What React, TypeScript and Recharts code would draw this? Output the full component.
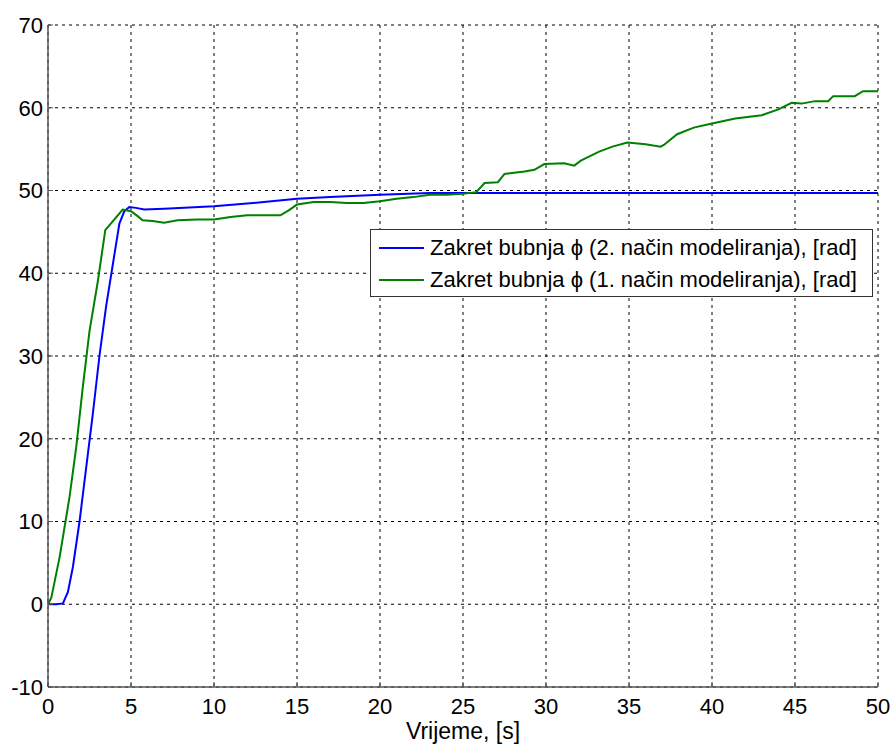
import React from "react";
import { LineChart, Line, XAxis, YAxis, CartesianGrid } from "recharts";

// model 2 (blue)
const blueT = [0, 0.5, 0.9, 1.2, 1.5, 1.9, 2.3, 2.7, 3.1, 3.5, 3.9, 4.3, 4.6, 4.9, 5.3, 5.8, 7, 10, 13, 15, 17, 20, 23, 25, 30, 40, 50];
const blueY = [0, 0, 0.1, 1.5, 4.5, 10, 16.5, 23, 30, 36, 41, 46, 47.5, 48, 47.9, 47.7, 47.8, 48.1, 48.6, 49.0, 49.2, 49.5, 49.7, 49.7, 49.7, 49.7, 49.7];

// model 1 (green)
const greenT = [0, 0.2, 0.7, 1.3, 1.7, 2.1, 2.5, 3.0, 3.45, 4.0, 4.5, 5.0, 5.4, 5.7, 6.3, 7.0, 7.8, 9, 10, 11, 12, 13, 14, 14.5, 15, 16, 17, 18, 19, 20, 21, 22, 23, 24, 25, 25.8, 26.3, 27.1, 27.5, 28.7, 29.3, 29.9, 31.1, 31.7, 32.1, 33.2, 34.0, 34.9, 36, 36.9, 37.1, 37.9, 38.9, 40, 41.4, 43, 44, 44.8, 45.4, 46.2, 47, 47.3, 48.6, 49.1, 50];
const greenY = [0, 0.8, 5.7, 13, 19, 26.3, 33, 39, 45.2, 46.5, 47.7, 47.5, 46.9, 46.4, 46.3, 46.1, 46.4, 46.5, 46.5, 46.8, 47.0, 47.0, 47.0, 47.6, 48.3, 48.6, 48.6, 48.5, 48.5, 48.7, 49.0, 49.2, 49.5, 49.5, 49.6, 49.8, 50.9, 51.0, 52.0, 52.3, 52.5, 53.2, 53.3, 53.0, 53.6, 54.7, 55.3, 55.8, 55.6, 55.3, 55.5, 56.8, 57.6, 58.1, 58.7, 59.1, 59.8, 60.6, 60.5, 60.8, 60.8, 61.4, 61.4, 62.0, 62.0];

const xTicks = [0, 5, 10, 15, 20, 25, 30, 35, 40, 45, 50];
const yTicks = [-10, 0, 10, 20, 30, 40, 50, 60, 70];

const seriesNames = [
  "Zakret bubnja \u03d5 (2. način modeliranja), [rad]",
  "Zakret bubnja \u03d5 (1. način modeliranja), [rad]",
];
const seriesColors = ["#0000ff", "#008000"];

const blueData = blueT.map((t, i) => ({ t, v: blueY[i] }));
const greenData = greenT.map((t, i) => ({ t, v: greenY[i] }));

const FONT = "'Liberation Sans', Arial, sans-serif";
const tickStyle = { fill: "#000", fontSize: 22, fontFamily: FONT };
const axisLine = { stroke: "#555", strokeWidth: 1.5 };
const tickLine = { stroke: "#555" };

export default function App() {
  return (
    <div style={{ position: "absolute", left: 0, top: 0, width: 892, height: 744, background: "#fff" }}>
      <LineChart width={892} height={744} margin={{ top: 25, right: 14, bottom: 0, left: 0 }}>
        <CartesianGrid
          stroke="#000"
          strokeDasharray="3 4"
          strokeWidth={1}
          horizontalValues={yTicks}
          verticalValues={xTicks}
        />
        <XAxis
          dataKey="t"
          type="number"
          domain={[0, 50]}
          ticks={xTicks}
          allowDuplicatedCategory={false}
          height={57}
          tick={tickStyle}
          tickSize={-5}
          tickMargin={16}
          axisLine={axisLine}
          tickLine={tickLine}
          label={{ value: "Vrijeme, [s]", position: "insideBottom", offset: 5, fill: "#000", fontSize: 23, fontFamily: FONT }}
        />
        <XAxis
          xAxisId="top"
          orientation="top"
          dataKey="t"
          type="number"
          domain={[0, 50]}
          ticks={xTicks}
          height={0}
          tick={false}
          tickSize={-5}
          axisLine={axisLine}
          tickLine={tickLine}
        />
        <YAxis
          type="number"
          domain={[-10, 70]}
          ticks={yTicks}
          width={48}
          tick={tickStyle}
          tickSize={-5}
          tickMargin={10}
          axisLine={axisLine}
          tickLine={tickLine}
        />
        <YAxis
          yAxisId="right"
          orientation="right"
          type="number"
          domain={[-10, 70]}
          ticks={yTicks}
          width={0}
          tick={false}
          tickSize={-5}
          axisLine={axisLine}
          tickLine={tickLine}
        />
        <Line
          data={blueData}
          dataKey="v"
          name={seriesNames[0]}
          type="linear"
          stroke={seriesColors[0]}
          strokeWidth={2}
          dot={false}
          isAnimationActive={false}
        />
        <Line
          data={greenData}
          dataKey="v"
          name={seriesNames[1]}
          type="linear"
          stroke={seriesColors[1]}
          strokeWidth={2}
          dot={false}
          isAnimationActive={false}
        />
      </LineChart>
      <div
        style={{
          position: "absolute",
          left: 370,
          top: 229,
          width: 503,
          height: 68,
          border: "1.5px solid #333",
          background: "#fff",
          fontFamily: FONT,
          fontSize: 22,
          color: "#000",
          boxSizing: "border-box",
          padding: "2px 0 0 8px",
        }}
      >
        {seriesNames.map((name, i) => (
          <div key={name} style={{ display: "flex", alignItems: "center", height: 32 }}>
            <span style={{ display: "inline-block", width: 45, height: 2, background: seriesColors[i], marginRight: 6 }} />
            <span style={{ whiteSpace: "nowrap" }}>{name}</span>
          </div>
        ))}
      </div>
    </div>
  );
}
